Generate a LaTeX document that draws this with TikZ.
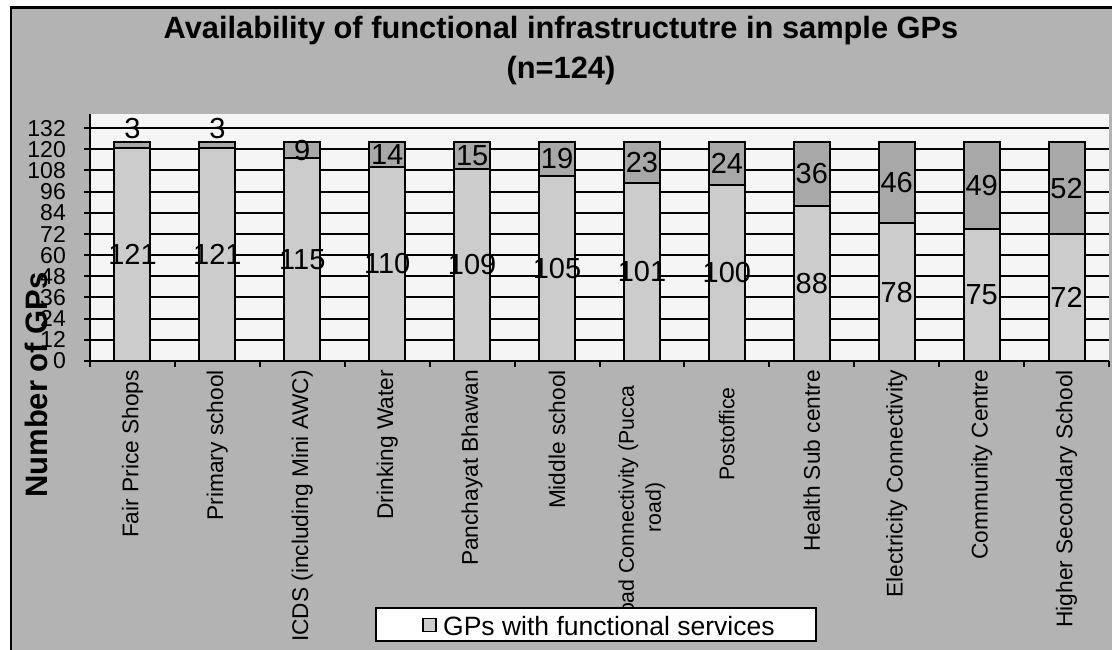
\documentclass[tikz,border=0pt]{standalone}
\usepackage{fontspec}
\setmainfont{Liberation Sans}
\begin{document}
\begin{tikzpicture}[x=1pt,y=-1pt]
\definecolor{bggray}{RGB}{179,179,179}
\definecolor{plotbg}{RGB}{245,245,245}
\definecolor{lowgray}{RGB}{204,204,204}
\definecolor{higray}{RGB}{168,168,168}
\tikzset{
  lowbar/.style={fill=lowgray,draw=black,line width=2pt},
  hibar/.style={fill=higray,draw=black,line width=2pt},
  gridline/.style={draw=black,line width=2pt},
  datalab/.style={inner sep=0pt,font=\fontsize{29}{33}\selectfont},
  ticklab/.style={inner sep=0pt,anchor=east,font=\fontsize{23}{23}\selectfont},
  catlab/.style={inner sep=0pt,anchor=east,rotate=90,align=center},
  titlelab/.style={inner sep=0pt,anchor=base,font=\bfseries\fontsize{30.8}{40}\selectfont},
}
\useasboundingbox (0,0) rectangle (1112,650);
\clip (0,0) rectangle (1112,650);
\fill[white] (0,0) rectangle (1112,650);
% outer chart area
\filldraw[fill=bggray,draw=black,line width=2.5pt] (11,7.5) rectangle (1125,665);
% title
\node[titlelab] (title1) at (561,38.5) {Availability of functional infrastructutre in sample GPs};
\node[titlelab] (title2) at (561,79) {(n=124)};
% plot area
\fill[plotbg] (90,114) rectangle (1109,361);
% gridlines and y ticks
\foreach \v [count=\k] in {0,12,...,132} {
  \pgfmathsetmacro\yy{361-1.7642*\v}
  \draw[gridline] (84,\yy) -- (1109,\yy);
  \node[ticklab] (tick\k) at (66,\yy) {\v};
}
% axes
\draw[black,line width=2pt] (90,114) -- (90,361);
\draw[black,line width=2pt] (84,361) -- (1109,361);
\foreach \j in {0,...,12} {
  \draw[black,line width=2pt] ({90+\j*84.917},361) -- ({90+\j*84.917},367);
}
% y axis title
\node[inner sep=0pt,rotate=90,font=\bfseries\fontsize{31}{34}\selectfont] (ytitle) at (36,385) {Number of GPs};
% bars
\foreach \i/\a/\b/\top/\fs/\lab in {
  0/121/3/370/22.7/{Fair Price Shops},
  1/121/3/370/22.7/{Primary school},
  2/115/9/370/22.7/{ICDS (including Mini AWC)},
  3/110/14/370/22.7/{Drinking Water},
  4/109/15/370/22.7/{Panchayat Bhawan},
  5/105/19/370/22.7/{Middle school},
  6/101/23/385/21.3/{Road Connectivity (Pucca\\road)},
  7/100/24/387/21.3/{Postoffice},
  8/88/36/370/22.7/{Health Sub centre},
  9/78/46/370/22.7/{Electricity Connectivity},
  10/75/49/370/22.7/{Community Centre},
  11/72/52/370/22.7/{Higher Secondary School}} {
  \pgfmathsetmacro\cx{90+(\i+0.5)*84.917}
  \pgfmathsetmacro\ya{361-1.7642*\a}
  \pgfmathsetmacro\yb{361-1.7642*(\a+\b)}
  \pgfmathsetmacro\yh{\b<5 ? 129 : (\ya+\yb)/2}
  \filldraw[lowbar] ({\cx-18},361) rectangle ({\cx+18},\ya);
  \filldraw[hibar] ({\cx-18},\ya) rectangle ({\cx+18},\yb);
  \node[datalab] (lo\i) at (\cx,{(361+\ya)/2}) {\a};
  \node[datalab] (hi\i) at (\cx,\yh) {\b};
  \node[catlab,font=\fontsize{\fs}{27}\selectfont] (cat\i) at (\cx,\top) {\lab};
}
% legend
\node[draw=black,fill=white,line width=2pt,minimum width=440pt,minimum height=33pt,inner sep=0pt] (legend) at (596,624.5) {};
\node[draw=black,fill=lowgray,line width=1.2pt,minimum size=13pt,inner sep=0pt] (legsym) at (429.5,625) {};
\node[inner sep=0pt,anchor=west,font=\fontsize{26.5}{30}\selectfont] (legtext) at (443,626) {GPs with functional services};
\end{tikzpicture}
\end{document}
